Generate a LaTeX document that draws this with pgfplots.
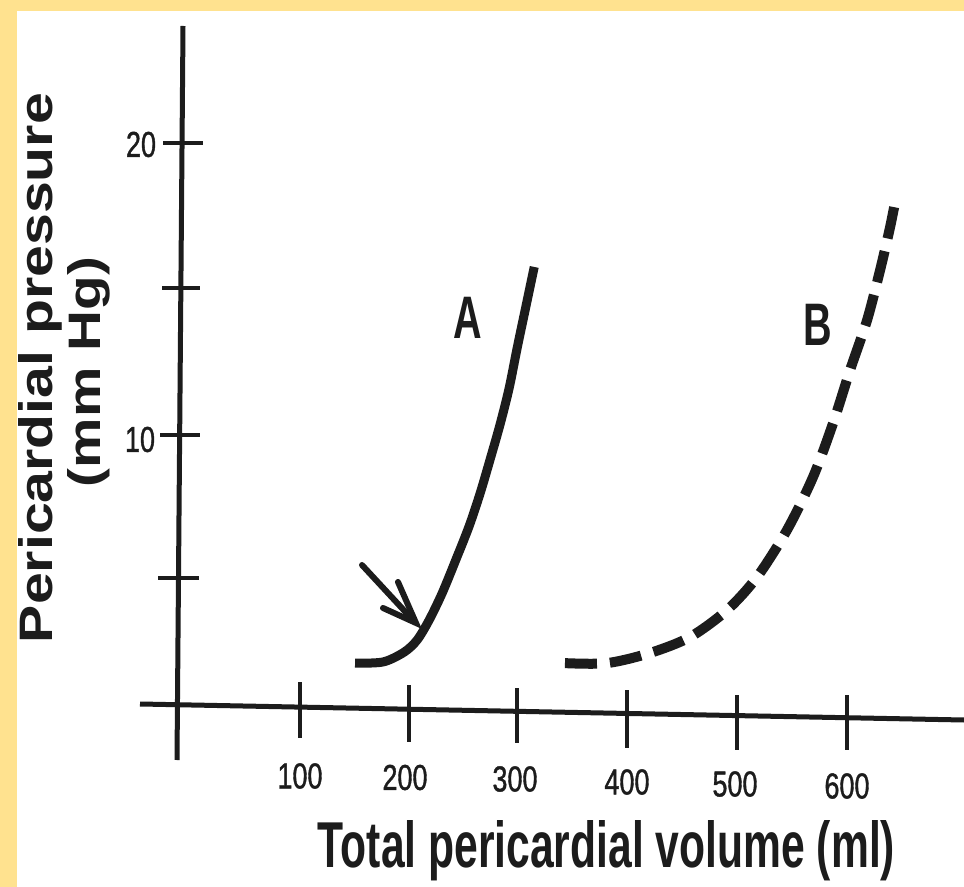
\documentclass[border=0pt]{standalone}
\usepackage{pgfplots}
\pgfplotsset{compat=1.18}
\usepackage{fontspec}
\setmainfont{Liberation Sans}
\newfontfamily\tickfont{Liberation Sans}[FakeBold=1.2]
\usepackage{graphicx}
\definecolor{bgyellow}{RGB}{255,226,143}
\definecolor{ink}{RGB}{28,28,28}
\newcommand{\tl}[1]{\scalebox{0.75}[1]{\fontsize{18}{18}\tickfont #1}}
\newcommand{\cl}[1]{\scalebox{0.66}[1]{\fontsize{30}{30}\selectfont\bfseries #1}}
\begin{document}
\begin{tikzpicture}
\begin{scope}[x=0.5pt,y=-0.5pt]
\fill[bgyellow] (0,0) rectangle (964,887);
\fill[white] (17,11) rectangle (964,887);
% axis lines
\draw[ink, line width=2.5pt] (140,704) -- (964,720);
\draw[ink, line width=2.5pt] (183,26) -- (177,760);
% y ticks
\draw[ink, line width=2pt] (163,143)--(203,143);
\draw[ink, line width=2pt] (162,288)--(200,288);
\draw[ink, line width=2pt] (160,435)--(200,435);
\draw[ink, line width=2pt] (158,578)--(199,578);
% x ticks
\draw[ink, line width=2pt] (300,682)--(300,738);
\draw[ink, line width=2pt] (409,685)--(409,742);
\draw[ink, line width=2pt] (517,688)--(517,743);
\draw[ink, line width=2pt] (627,690)--(627,748);
\draw[ink, line width=2pt] (737,695)--(737,750);
\draw[ink, line width=2pt] (847,695)--(847,750);
% tick labels
\node[ink, inner sep=0pt] at (141,144.5) {\tl{20}};
\node[ink, inner sep=0pt] at (140,439.5) {\tl{10}};
\node[ink, inner sep=0pt] at (300,776) {\tl{100}};
\node[ink, inner sep=0pt] at (405,777.5) {\tl{200}};
\node[ink, inner sep=0pt] at (515,779) {\tl{300}};
\node[ink, inner sep=0pt] at (627,782) {\tl{400}};
\node[ink, inner sep=0pt] at (735,784) {\tl{500}};
\node[ink, inner sep=0pt] at (847,786) {\tl{600}};
% axis titles
\node[ink, inner sep=0pt, anchor=base] at (606.5,867) {\resizebox{288.5pt}{23.5pt}{\bfseries Total pericardial volume (ml)}};
\node[ink, inner sep=0pt, anchor=base, rotate=90] at (52,368) {\resizebox{275pt}{17pt}{\bfseries Pericardial pressure}};
\node[ink, inner sep=0pt, anchor=base, rotate=90] at (100,372) {\resizebox{115pt}{16.5pt}{\bfseries (mm Hg)}};
% curve labels
\node[ink, inner sep=0pt] at (468,318) {\cl{A}};
\node[ink, inner sep=0pt] at (818,325) {\cl{B}};
% arrow
\draw[ink, line width=3pt, line cap=round] (362,565) -- (412,619);
\draw[ink, line width=3pt, line cap=round, line join=miter] (383,608) -- (416,623) -- (398,582);
\end{scope}
\begin{axis}[at={(67.95pt,-390.21pt)}, anchor=south west, scale only axis,
  width=410.25pt, height=376.48pt, xmin=-50, xmax=700, ymin=-2, ymax=24,
  hide axis, clip=false]
\addplot[ink, line width=4.5pt, smooth, tension=0.5, line cap=butt] coordinates {
 (150.3,2.05) (175.9,2.09) (195.2,2.43) (207.1,2.85) (218.1,3.54) (230.0,4.47)
 (242.8,5.65) (254.7,6.79) (264.7,7.92) (273.9,9.10) (283.0,10.31) (291.2,11.55)
 (298.5,12.93) (306.8,14.42) (314.1,15.73)};
\addplot[ink, line width=5pt, smooth, dash pattern=on 16pt off 6.5pt] coordinates {
 (342.2,2.05) (380.6,2.05) (419.9,2.40) (456.5,2.95) (490.3,3.88) (517.7,5.02)
 (545.2,6.65) (569.0,8.48) (587.3,10.34) (602.8,12.17) (618.4,13.90) (630.3,15.63)
 (639.4,17.11) (644.9,18.15)};
\end{axis}
\pgfresetboundingbox
\useasboundingbox (0,0) rectangle (482pt,-443.5pt);
\end{tikzpicture}
\end{document}
